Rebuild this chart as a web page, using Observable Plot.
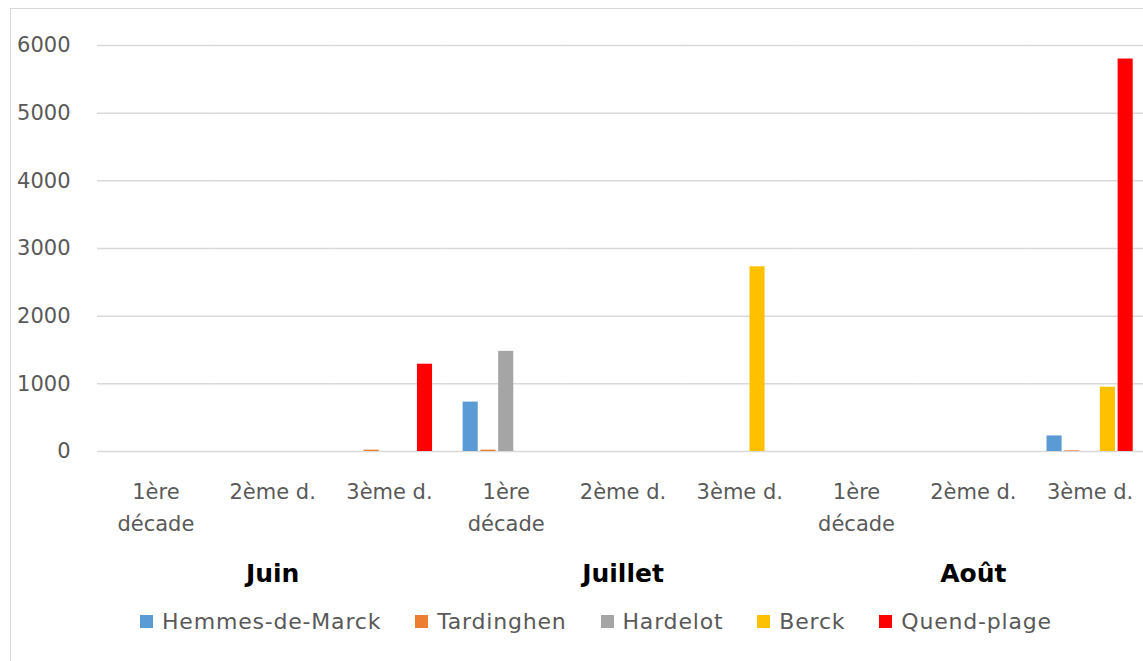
<!DOCTYPE html>
<html>
<head>
<meta charset="utf-8">
<script src="https://cdn.jsdelivr.net/npm/d3@7"></script>
<script src="https://cdn.jsdelivr.net/npm/@observablehq/plot@0.6"></script>
<style>
  html, body { margin: 0; padding: 0; background: #fff; overflow: hidden; width: 1143px; height: 661px; }
  #frame { position: absolute; left: 10px; top: 8px; width: 1200px; height: 700px; border: 1px solid #d9d9d9; box-sizing: border-box; }
  #chart { position: absolute; left: 0; top: 0; width: 1148px; }
  #chart svg { max-width: none !important; }
  #legend { position: absolute; left: 140px; top: 609px; font-family: "DejaVu Sans"; font-size: 22px; color: #595959; letter-spacing: 0.8px; }
</style>
</head>
<body>
<div id="frame"></div>
<div id="chart"></div>
<div id="legend"></div>
<script>
const months = ["Juin", "Juillet", "Août"];
const decades = ["1ère\ndécade", "2ème d.", "3ème d."];
const sites = ["Hemmes-de-Marck", "Tardinghen", "Hardelot", "Berck", "Quend-plage"];
const colors = ["#5B9BD5", "#ED7D31", "#A5A5A5", "#FFC000", "#FF0000"];
// values per site, in order Juin 1..3, Juillet 1..3, Août 1..3
const hemmes     = [0, 0, 0,    730, 0, 0,    0, 0, 230];
const tardinghen = [0, 0, 20,   20,  0, 0,    0, 0, 10];
const hardelot   = [0, 0, 0,    1480, 0, 0,   0, 0, 0];
const berck      = [0, 0, 0,    0, 0, 2730,   0, 0, 950];
const quend      = [0, 0, 1290, 0, 0, 0,      0, 0, 5800];
const yTicks = [0, 1000, 2000, 3000, 4000, 5000, 6000];

const series = [hemmes, tardinghen, hardelot, berck, quend];
const keys = [];
months.forEach(m => decades.forEach((d, i) => keys.push(m + "|" + i)));
const rows = [];
series.forEach((vals, s) => vals.forEach((v, k) => rows.push({key: keys[k], site: sites[s], value: v})));
const monthRows = months.map(m => ({key: m + "|1", label: m}));

const chart = Plot.plot({
  width: 1148,
  height: 601,
  marginLeft: 97,
  marginRight: 0,
  marginTop: 45,
  marginBottom: 150,
  style: {fontFamily: "DejaVu Sans", fontSize: "21px", color: "#595959", background: "transparent", overflow: "visible"},
  fx: {domain: keys, padding: 0, round: false, axis: null},
  x: {domain: sites, paddingInner: 0.15, paddingOuter: 0.86, round: false, axis: null},
  y: {domain: [0, 6000], axis: null},
  color: {domain: sites, range: colors},
  marks: [
    Plot.ruleY(yTicks, {stroke: "#d9d9d9", strokeWidth: 1.5}),
    Plot.axisY({ticks: yTicks, tickSize: 0, tickPadding: 27, fontSize: 21, fill: "#595959", label: null,
      tickFormat: d => String(d)}),
    Plot.axisFx({anchor: "bottom", tickSize: 0, tickPadding: 24, fontSize: 21, lineHeight: 1.55, fill: "#595959",
      tickFormat: k => decades[+k.split("|")[1]], label: null}),
    Plot.barY(rows, {fx: "key", x: "site", y: "value", fill: "site"}),
    Plot.text(monthRows, {fx: "key", text: "label", frameAnchor: "bottom", dy: 122, lineAnchor: "middle",
      fontSize: 25, fontWeight: "bold", fill: "#000"})
  ]
});
document.getElementById("chart").appendChild(chart);

const legend = Plot.legend({
  color: {domain: sites, range: colors},
  legend: "swatches",
  swatchSize: 13,
  className: "lg",
  style: {fontFamily: "DejaVu Sans", fontSize: "22px", color: "#595959"}
});
document.getElementById("legend").appendChild(legend);
</script>
<style>
  #legend .lg-swatch { margin-right: 34px !important; }
  #legend .lg-swatch svg { margin-right: 9px !important; }
  #legend div { min-height: 0 !important; margin: 0 !important; font-size: 22px; }
</style>
</body>
</html>
